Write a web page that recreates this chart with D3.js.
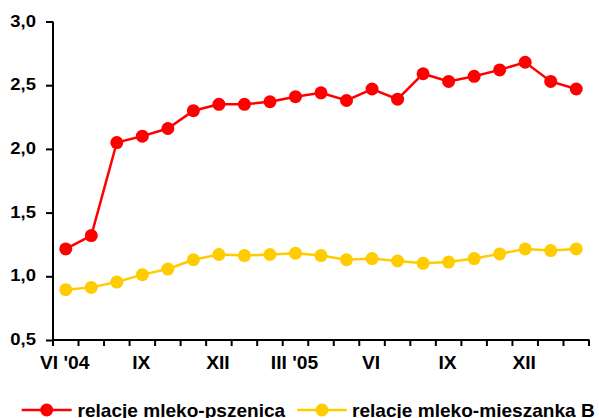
<!DOCTYPE html>
<html><head><meta charset="utf-8">
<script src="https://cdn.jsdelivr.net/npm/d3@7"></script>
<style>body{margin:0;background:#fff}svg{display:block}text{font-family:"Liberation Sans",Arial,sans-serif;font-weight:bold;fill:#000}</style>
</head><body><svg id="c" width="599" height="418"></svg>
<script>
const months = ["VI '04","VII","VIII","IX","X","XI","XII","I","II","III '05","IV","V","VI","VII","VIII","IX","X","XI","XII","I","II"];
const tickLabels = {0:"VI '04",3:"IX",6:"XII",9:"III '05",12:"VI",15:"IX",18:"XII"};
const pszenica = [1.215,1.32,2.05,2.10,2.16,2.30,2.35,2.35,2.37,2.41,2.44,2.38,2.47,2.39,2.59,2.53,2.57,2.62,2.68,2.53,2.47];
const mieszanka = [0.895,0.913,0.955,1.013,1.057,1.13,1.171,1.163,1.171,1.181,1.163,1.13,1.139,1.12,1.102,1.112,1.139,1.176,1.215,1.202,1.215];
const yTicks = [0.5,1.0,1.5,2.0,2.5,3.0];
const seriesNames = ["relacje mleko-pszenica","relacje mleko-mieszanka B"];
const colors = ["#ff0000","#ffcc00"];

const svg = d3.select("#c");
const x = d3.scaleBand().domain(d3.range(months.length)).range([53,589]).padding(0);
const y = d3.scaleLinear().domain([0.5,3]).range([340,21.5]);
const fmt = v => d3.format(".1f")(v).replace(".",",");

// Y axis
const ya = svg.append("g").attr("transform","translate(53,0)")
  .call(d3.axisLeft(y).tickValues(yTicks).tickSize(7).tickPadding(10).tickFormat(fmt));
ya.select(".domain").attr("stroke","#000").attr("stroke-width",2).attr("d","M0,"+y(3)+"V"+y(0.5));
ya.selectAll(".tick line").attr("stroke","#000").attr("stroke-width",2);
ya.selectAll(".tick text").attr("font-size","16.5px").attr("font-family",null).attr("dy","0.28em")
  .each(function(){const t=d3.select(this);t.attr("transform","translate(-17,0) scale(1.12,1)").attr("x",0);});

// X axis
const xa = svg.append("g").attr("transform","translate(0,340)");
xa.append("line").attr("x1",52).attr("x2",589.5).attr("y1",0).attr("y2",0).attr("stroke","#000").attr("stroke-width",2);
const edges = d3.range(months.length+1).map(i => i<months.length ? x(i) : x(months.length-1)+x.bandwidth());
xa.selectAll("line.t").data(edges).enter().append("line").attr("class","t")
  .attr("x1",d=>d).attr("x2",d=>d).attr("y1",0).attr("y2",6).attr("stroke","#000").attr("stroke-width",2);
xa.selectAll("text").data(Object.keys(tickLabels).map(Number)).enter().append("text")
  .attr("text-anchor","middle").attr("font-size","17.5px")
  .attr("transform",d=>"translate("+(x(d)+x.bandwidth()/2-1)+",28.5) scale(1.1,1)")
  .text(d=>tickLabels[d]);

// Lines
const cx = i => x(i)+x.bandwidth()/2;
[pszenica,mieszanka].forEach((s,k)=>{
  svg.append("path").datum(s).attr("fill","none").attr("stroke",colors[k]).attr("stroke-width",2.5)
    .attr("d",d3.line().x((d,i)=>cx(i)).y(d=>y(d)));
  svg.selectAll("circle.s"+k).data(s).enter().append("circle").attr("class","s"+k)
    .attr("cx",(d,i)=>cx(i)).attr("cy",d=>y(d)).attr("r",6.5).attr("fill",colors[k]);
});

// Legend
const leg = [{x1:21.7,x2:71.7,tx:77.5},{x1:297.3,x2:346.7,tx:352}];
leg.forEach((l,k)=>{
  const g = svg.append("g");
  g.append("line").attr("x1",l.x1).attr("x2",l.x2).attr("y1",410).attr("y2",410).attr("stroke",colors[k]).attr("stroke-width",2.5);
  g.append("circle").attr("cx",(l.x1+l.x2)/2).attr("cy",410).attr("r",6.5).attr("fill",colors[k]);
  g.append("text").attr("font-size","17.5px").attr("transform","translate("+l.tx+",417) scale(1.09,1)").text(seriesNames[k]);
});
</script></body></html>
